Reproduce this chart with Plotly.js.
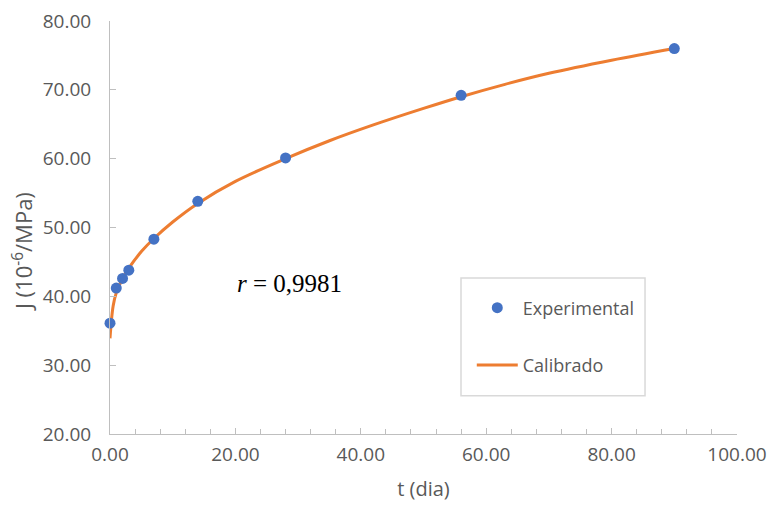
<!DOCTYPE html>
<html>
<head>
<meta charset="utf-8">
<script src="https://cdn.plot.ly/plotly-3.0.1.min.js"></script>
<style>html,body{margin:0;padding:0;background:#fff;}#chart{width:771px;height:510px;}</style>
</head>
<body>
<div id="chart"></div>
<script>
// Experimental points
var expT = [0, 1, 2, 3, 7, 14, 28, 56, 90];
var expJ = [36.1, 41.2, 42.6, 43.8, 48.3, 53.8, 60.1, 69.2, 76.0];
// Calibrated curve
var calT = [0, 0.5, 1, 2, 3, 5, 7, 10, 14, 20, 28, 35, 42, 50, 56, 63, 70, 80, 90];
var calJ = [33.9, 38.6, 40.5, 42.6, 44.1, 46.5, 48.4, 50.8, 53.5, 56.7, 60.0, 62.6, 64.9, 67.3, 69.0, 70.8, 72.4, 74.3, 76.0];
var annText = "<i>r</i> = 0,9981";
var xTitle = "t (dia)";
var yTitle = "J (10<sup>-6</sup>/MPa)";

var grey = "#595959";
var axisCol = "#bfbfbf";
var traces = [
  {x: calT, y: calJ, type: "scatter", mode: "lines", name: "Calibrado",
   line: {color: "#ED7D31", width: 3, shape: "spline", smoothing: 1}, legendgroup: "b", legendrank: 2},
  {x: expT, y: expJ, type: "scatter", mode: "markers", name: "Experimental",
   marker: {color: "#4472C4", size: 11}, cliponaxis: false, legendgroup: "a", legendrank: 1}
];
var layout = {
  width: 771, height: 510,
  margin: {l: 110, r: 34, t: 21, b: 76},
  paper_bgcolor: "#fff", plot_bgcolor: "#fff",
  font: {family: "Open Sans, sans-serif", size: 20, color: grey},
  showlegend: true,
  legend: {x: 0.577, y: 0.35, xanchor: "left", yanchor: "top", bgcolor: "rgba(0,0,0,0)",
           borderwidth: 0, font: {size: 18, color: grey}, tracegroupgap: 31, traceorder: "grouped",
           itemwidth: 41},
  xaxis: {range: [0, 100], dtick: 20, tickformat: ".2f", showgrid: false, zeroline: false,
          showline: true, linecolor: axisCol, linewidth: 1, ticks: "inside", ticklen: 6, tickcolor: axisCol,
          minor: {dtick: 4, ticks: "inside", ticklen: 5, tickcolor: axisCol, showgrid: false},
          ticklabelstandoff: 3, tickfont: {size: 19},
          title: {text: xTitle, font: {size: 20, color: grey}, standoff: 16}},
  yaxis: {range: [20, 80], dtick: 10, tickformat: ".2f", showgrid: false, zeroline: false,
          showline: true, linecolor: axisCol, linewidth: 1, ticks: "inside", ticklen: 6, tickcolor: axisCol,
          ticklabelstandoff: 14, tickfont: {size: 19}},
  annotations: [
    {x: 28.7, y: 41.9, xref: "x", yref: "y", text: annText, showarrow: false,
     font: {family: "Liberation Serif, Times New Roman, serif", size: 25, color: "#000"}},
    {x: -0.1404, y: 0.443, xref: "paper", yref: "paper", xanchor: "center", yanchor: "middle",
     text: yTitle, showarrow: false, textangle: -90, font: {size: 22, color: grey}}
  ],
  shapes: [{type: "rect", xref: "paper", yref: "paper", x0: 0.5598, x1: 0.8533, y0: 0.0925, y1: 0.3777,
            line: {color: "#d9d9d9", width: 1.5}, fillcolor: "rgba(0,0,0,0)"}]
};
Plotly.newPlot("chart", traces, layout, {displayModeBar: false, staticPlot: true});
</script>
</body>
</html>
